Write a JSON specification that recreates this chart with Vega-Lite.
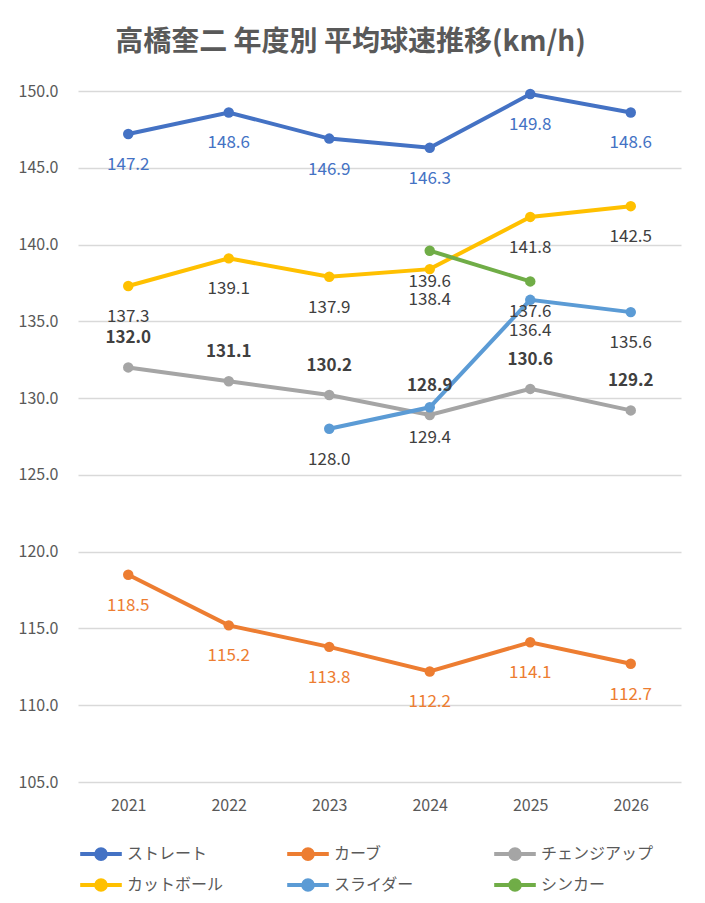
{
  "$schema": "https://vega.github.io/schema/vega-lite/v6.json",
  "autosize": {"type": "none"},
  "width": 603,
  "height": 691,
  "padding": {"left": 78, "top": 91, "right": 24, "bottom": 121},
  "background": "white",
  "title": {
    "text": "高橋奎二 年度別 平均球速推移(km/h)",
    "fontSize": 28,
    "font": "Noto Sans CJK JP",
    "fontWeight": "bold",
    "color": "#595959",
    "anchor": "middle",
    "dx": -29,
    "offset": 26
  },
  "data": {
    "values": [
      {"year": "2021", "type": "ストレート", "v": 147.2},
      {"year": "2022", "type": "ストレート", "v": 148.6},
      {"year": "2023", "type": "ストレート", "v": 146.9},
      {"year": "2024", "type": "ストレート", "v": 146.3},
      {"year": "2025", "type": "ストレート", "v": 149.8},
      {"year": "2026", "type": "ストレート", "v": 148.6},
      {"year": "2021", "type": "カーブ", "v": 118.5},
      {"year": "2022", "type": "カーブ", "v": 115.2},
      {"year": "2023", "type": "カーブ", "v": 113.8},
      {"year": "2024", "type": "カーブ", "v": 112.2},
      {"year": "2025", "type": "カーブ", "v": 114.1},
      {"year": "2026", "type": "カーブ", "v": 112.7},
      {"year": "2021", "type": "チェンジアップ", "v": 132.0},
      {"year": "2022", "type": "チェンジアップ", "v": 131.1},
      {"year": "2023", "type": "チェンジアップ", "v": 130.2},
      {"year": "2024", "type": "チェンジアップ", "v": 128.9},
      {"year": "2025", "type": "チェンジアップ", "v": 130.6},
      {"year": "2026", "type": "チェンジアップ", "v": 129.2},
      {"year": "2021", "type": "カットボール", "v": 137.3},
      {"year": "2022", "type": "カットボール", "v": 139.1},
      {"year": "2023", "type": "カットボール", "v": 137.9},
      {"year": "2024", "type": "カットボール", "v": 138.4},
      {"year": "2025", "type": "カットボール", "v": 141.8},
      {"year": "2026", "type": "カットボール", "v": 142.5},
      {"year": "2023", "type": "スライダー", "v": 128.0},
      {"year": "2024", "type": "スライダー", "v": 129.4},
      {"year": "2025", "type": "スライダー", "v": 136.4},
      {"year": "2026", "type": "スライダー", "v": 135.6},
      {"year": "2024", "type": "シンカー", "v": 139.6},
      {"year": "2025", "type": "シンカー", "v": 137.6}
    ]
  },
  "encoding": {
    "x": {
      "field": "year",
      "type": "ordinal",
      "sort": null,
      "scale": {"type": "point", "padding": 0.5},
      "axis": {
        "title": null,
        "labelAngle": 0,
        "ticks": false,
        "domain": false,
        "grid": false,
        "labelPadding": 15,
        "labelFontSize": 16,
        "labelColor": "#595959",
        "labelFont": "Noto Sans CJK JP"
      }
    },
    "y": {
      "field": "v",
      "type": "quantitative",
      "scale": {"domain": [105, 150], "nice": false, "zero": false},
      "axis": {
        "title": null,
        "values": [105, 110, 115, 120, 125, 130, 135, 140, 145, 150],
        "format": ".1f",
        "ticks": false,
        "domain": false,
        "labelPadding": 20,
        "labelFontSize": 16,
        "labelColor": "#595959",
        "labelFont": "Noto Sans CJK JP",
        "gridColor": "#D9D9D9",
        "gridWidth": 1.3
      }
    }
  },
  "layer": [
    {
      "mark": {"type": "line", "strokeWidth": 4},
      "encoding": {
        "color": {
          "field": "type",
          "type": "nominal",
          "scale": {
            "domain": ["ストレート", "カーブ", "チェンジアップ", "カットボール", "スライダー", "シンカー"],
            "range": ["#4472C4", "#ED7D31", "#A5A5A5", "#FFC000", "#5B9BD5", "#70AD47"]
          },
          "legend": {
            "title": null,
            "orient": "none",
            "legendX": 5,
            "legendY": 745,
            "direction": "horizontal",
            "columns": 3,
            "gridAlign": "all",
            "columnPadding": 39,
            "rowPadding": 0,
            "symbolType": "M-1.3,0H1.3M0.3,0A0.3,0.3,0,1,1,-0.3,0A0.3,0.3,0,1,1,0.3,0Z",
            "symbolSize": 1024,
            "symbolStrokeWidth": 4,
            "labelOffset": 8,
            "labelFontSize": 16,
            "labelColor": "#595959",
            "labelFont": "Noto Sans CJK JP",
            "encode": {
              "symbols": {
                "update": {
                  "fill": {"scale": "color", "field": "value"},
                  "stroke": {"scale": "color", "field": "value"},
                  "fillOpacity": {"value": 1},
                  "strokeOpacity": {"value": 1}
                }
              }
            }
          }
        }
      }
    },
    {
      "mark": {"type": "point", "filled": true, "size": 110, "opacity": 1},
      "encoding": {
        "color": {"field": "type", "type": "nominal", "legend": null}
      }
    },
    {
      "transform": [{"filter": "datum.type !== 'チェンジアップ'"}],
      "mark": {"type": "text", "dy": 31, "fontSize": 17, "font": "Noto Sans CJK JP"},
      "encoding": {
        "text": {"field": "v", "type": "quantitative", "format": ".1f"},
        "color": {
          "condition": [
            {"test": "datum.type === 'ストレート'", "value": "#4472C4"},
            {"test": "datum.type === 'カーブ'", "value": "#ED7D31"}
          ],
          "value": "#404040"
        }
      }
    },
    {
      "transform": [{"filter": "datum.type === 'チェンジアップ'"}],
      "mark": {"type": "text", "dy": -29, "fontSize": 17, "fontWeight": "bold", "font": "Noto Sans CJK JP", "color": "#404040"},
      "encoding": {
        "text": {"field": "v", "type": "quantitative", "format": ".1f"}
      }
    }
  ],
  "config": {
    "view": {"stroke": null}
  }
}
